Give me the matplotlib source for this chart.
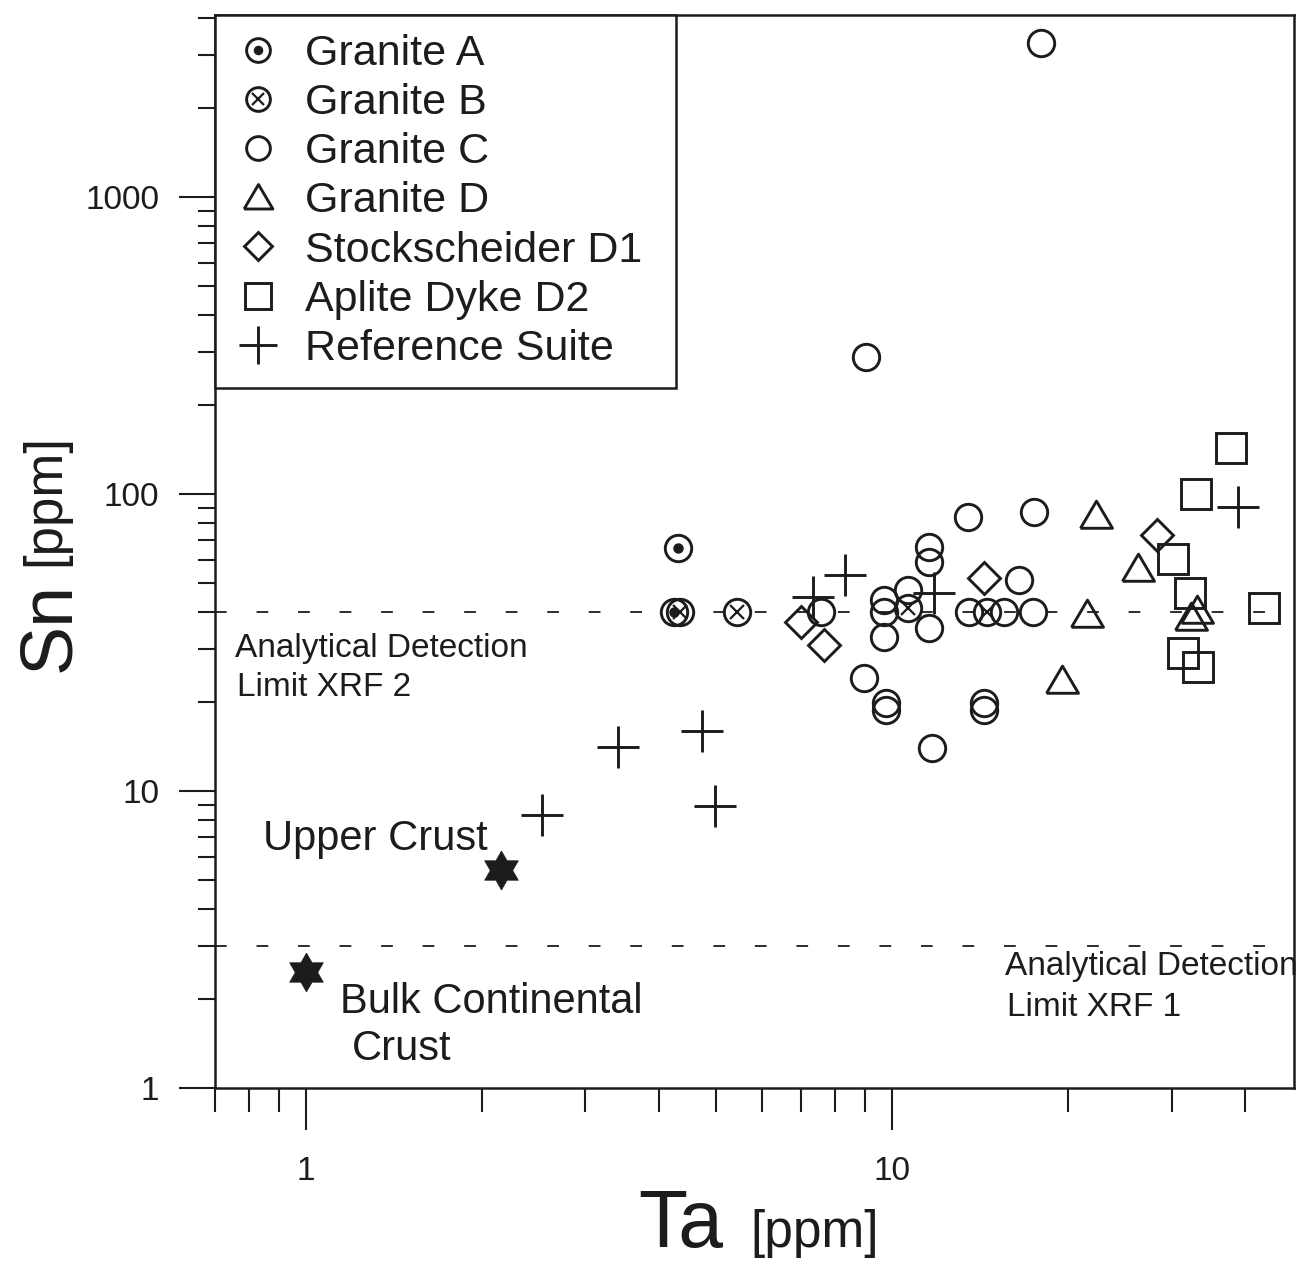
import numpy as np
import matplotlib
matplotlib.use('Agg')
import matplotlib.pyplot as plt
from matplotlib.ticker import LogLocator, NullFormatter, FixedLocator, FixedFormatter
from matplotlib.lines import Line2D
from matplotlib.legend_handler import HandlerTuple

plt.rcParams['font.family'] = ['Liberation Sans', 'DejaVu Sans']

# ---------------- data (Ta ppm, Sn ppm) ----------------
granite_a_ta = [4.32, 4.25]
granite_a_sn = [66.0, 40.0]

granite_b_ta = [4.35, 5.43, 10.65, 14.5]
granite_b_sn = [40.0, 40.0, 41.3, 40.0]

granite_c_ta = [17.98, 9.03, 7.56, 9.69, 9.69, 9.69, 10.65, 11.57, 11.57, 11.57,
                13.49, 13.55, 15.54, 16.49, 17.42, 17.5, 8.96, 9.77, 9.77, 11.71,
                14.37, 14.37]
granite_c_sn = [3300, 289, 40.0, 44.0, 40.0, 33.0, 47.5, 66.3, 59.0, 35.4,
                83.7, 40.0, 40.0, 51.3, 40.0, 87.0, 24.0, 19.8, 18.7, 13.96,
                19.8, 18.7]

granite_d_ta = [22.3, 26.3, 21.5, 33.1, 32.4, 19.5]
granite_d_sn = [85.0, 56.3, 39.4, 40.7, 38.5, 23.6]

stock_d1_ta = [6.99, 7.65, 14.37, 28.3]
stock_d1_sn = [37.1, 31.0, 52.2, 72.8]

aplite_d2_ta = [37.8, 32.96, 30.2, 32.2, 43.1, 31.3, 33.2]
aplite_d2_sn = [142.9, 100.0, 60.4, 46.4, 41.3, 29.2, 26.2]

ref_ta = [7.33, 8.31, 11.8, 39.0, 3.41, 4.75, 2.53, 4.98]
ref_sn = [45.0, 53.4, 46.4, 90.4, 14.07, 15.9, 8.3, 8.9]

crust_ta = [2.15, 1.0]        # Upper crust, Bulk continental crust
crust_sn = [5.4, 2.46]

xrf2_limit = 40.0
xrf1_limit = 3.0

legend_labels = ['Granite A', 'Granite B', 'Granite C', 'Granite D',
                 'Stockscheider D1', 'Aplite Dyke D2', 'Reference Suite']

# ---------------- figure ----------------
W, H = 1300, 1262
fig = plt.figure(figsize=(W / 100, H / 100), dpi=100)
fig.patch.set_facecolor('white')

def fx(px):
    return px / W

def fy(py):
    return 1 - py / H

L, R, T, B = 215, 1294, 15, 1088
ax = fig.add_axes([fx(L), fy(B), fx(R) - fx(L), fy(T) - fy(B)])
ax.set_xscale('log')
ax.set_yscale('log')
ax.set_xlim(0.7, 48.5)
ax.set_ylim(1, 4100)

C = '#1c1c1c'
mew = 2.1

# triangle marker (flatter than matplotlib default)
tri = [(-1, -0.8), (1, -0.8), (0, 0.9), (-1, -0.8)]
# hexagram marker
ang = np.pi / 2 + np.arange(12) * np.pi / 6
rad = np.where(np.arange(12) % 2 == 0, 1.0, 0.577)
hexa = list(zip(rad * np.cos(ang), rad * np.sin(ang)))
hexa.append(hexa[0])

ax.plot(granite_c_ta, granite_c_sn, ls='none', marker='o', ms=19, mfc='none', mec=C, mew=mew, zorder=3)
ax.plot(granite_a_ta, granite_a_sn, ls='none', marker='o', ms=19, mfc='white', mec=C, mew=mew, zorder=3)
ax.plot(granite_a_ta, granite_a_sn, ls='none', marker='o', ms=6.5, mfc=C, mec=C, zorder=4)
ax.plot(granite_b_ta, granite_b_sn, ls='none', marker='o', ms=19, mfc='none', mec=C, mew=mew, zorder=3)
ax.plot(granite_b_ta, granite_b_sn, ls='none', marker='x', ms=10, mec=C, mew=1.6, zorder=4)
ax.plot(granite_d_ta, granite_d_sn, ls='none', marker=tri, ms=23, mfc='none', mec=C, mew=mew, zorder=3)
ax.plot(stock_d1_ta, stock_d1_sn, ls='none', marker='D', ms=16.3, mfc='none', mec=C, mew=mew, zorder=3)
ax.plot(aplite_d2_ta, aplite_d2_sn, ls='none', marker='s', ms=21, mfc='none', mec=C, mew=mew, zorder=3)
ax.plot(ref_ta, ref_sn, ls='none', marker='+', ms=30, mec=C, mew=2.1, zorder=3)
ax.plot(crust_ta, crust_sn, ls='none', marker=hexa, ms=28, mfc=C, mec=C, mew=0.5, zorder=3)

# detection limits
dash = (0, (6.5, 16.5))
ax.axhline(xrf2_limit, color=C, lw=1.3, ls=dash, zorder=2)
ax.axhline(xrf1_limit, color=C, lw=1.3, ls=dash, zorder=2)

# ticks
ax.xaxis.set_major_locator(FixedLocator([1, 10]))
ax.xaxis.set_major_formatter(FixedFormatter(['1', '10']))
ax.xaxis.set_minor_locator(LogLocator(base=10, subs=np.arange(2, 10)))
ax.xaxis.set_minor_formatter(NullFormatter())
ax.yaxis.set_major_locator(FixedLocator([1, 10, 100, 1000]))
ax.yaxis.set_major_formatter(FixedFormatter(['1', '10', '100', '1000']))
ax.yaxis.set_minor_locator(LogLocator(base=10, subs=np.arange(2, 10)))
ax.yaxis.set_minor_formatter(NullFormatter())

ax.tick_params(axis='y', which='major', direction='out', length=26, width=1.5,
               pad=14, labelsize=24, colors=C)
ax.tick_params(axis='y', which='minor', direction='out', length=12, width=1.5, colors=C)
ax.tick_params(axis='x', which='major', direction='out', length=30, width=1.5,
               pad=19, labelsize=24, colors=C)
ax.tick_params(axis='x', which='minor', direction='out', length=17, width=1.5, colors=C)
for s in ax.spines.values():
    s.set_linewidth(1.8)
    s.set_color(C)

# legend
def oc(ms=19):
    return Line2D([], [], ls='none', marker='o', ms=ms, mfc='none', mec=C, mew=mew)

handles = [
    (Line2D([], [], ls='none', marker='o', ms=19, mfc='white', mec=C, mew=mew),
     Line2D([], [], ls='none', marker='o', ms=6.5, mfc=C, mec=C)),
    (oc(), Line2D([], [], ls='none', marker='x', ms=10, mec=C, mew=1.6)),
    oc(),
    Line2D([], [], ls='none', marker=tri, ms=23, mfc='none', mec=C, mew=mew),
    Line2D([], [], ls='none', marker='D', ms=16.3, mfc='none', mec=C, mew=mew),
    Line2D([], [], ls='none', marker='s', ms=21, mfc='none', mec=C, mew=mew),
    Line2D([], [], ls='none', marker='+', ms=30, mec=C, mew=2.1),
]
leg = ax.legend(handles, legend_labels, handler_map={tuple: HandlerTuple(ndivide=1)},
                loc='upper left', bbox_to_anchor=(0, 1, (676 - L) / (R - L), 0),
                mode='expand', borderaxespad=0, fontsize=31, markerscale=0.9,
                handlelength=1.1, handletextpad=0.55, labelspacing=0.21,
                borderpad=0.45, fancybox=False, framealpha=1, edgecolor=C)
leg.get_frame().set_linewidth(1.8)
for t in leg.get_texts():
    t.set_color(C)

# annotations (figure pixel positions)
def ftext(px, py, s, size, **kw):
    fig.text(fx(px), fy(py), s, fontsize=size, color=C, va='baseline', **kw)

ftext(235, 657, 'Analytical Detection', 24)
ftext(237, 696, 'Limit XRF 2', 24)
ftext(1005, 975, 'Analytical Detection', 24)
ftext(1007, 1016, 'Limit XRF 1', 24)
ftext(263, 850, 'Upper Crust', 30)
ftext(340, 1013, 'Bulk Continental', 30)
ftext(352, 1060, 'Crust', 30)

# axis labels
ftext(638, 1247, 'Ta', 58)
ftext(750, 1247, '[ppm]', 37)
fig.text(fx(69), fy(672), 'Sn', fontsize=53, color=C, rotation=90,
         rotation_mode='anchor', ha='left', va='baseline')
fig.text(fx(59), fy(566), '[ppm]', fontsize=38, color=C, rotation=90,
         rotation_mode='anchor', ha='left', va='baseline')

fig.savefig('out.png', dpi=100, facecolor='white')
